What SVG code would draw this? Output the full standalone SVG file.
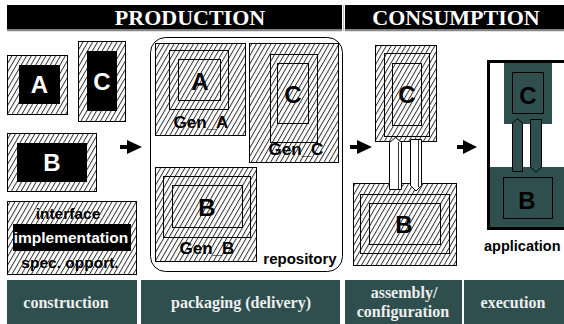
<svg xmlns="http://www.w3.org/2000/svg" width="564" height="324" viewBox="0 0 564 324">
<defs>
<pattern id="hatch" width="4.2" height="10" patternUnits="userSpaceOnUse" patternTransform="rotate(30)">
<rect width="4.2" height="10" fill="#fff"/>
<line x1="0.5" y1="0" x2="0.5" y2="10" stroke="#222" stroke-width="0.9"/>
</pattern>
<style>
.h{fill:url(#hatch);stroke:#000;stroke-width:1}
.ln{fill:none;stroke:#000;stroke-width:1}
.blk{fill:#000}
.slate{fill:#2f4f4f}
.sl{fill:#2f4f4f;stroke:#000;stroke-width:1}
.ss{font-family:"Liberation Sans",Arial,sans-serif;font-weight:bold;text-anchor:middle}
.big{font-size:24px}
.gen{font-size:17px}
.lbl{font-size:15.5px}
.hd{font-family:"Liberation Serif","Times New Roman",serif;font-weight:bold;font-size:22px;fill:#fff;text-anchor:middle}
.ft{font-family:"Liberation Serif","Times New Roman",serif;font-weight:bold;font-size:16px;fill:#eee;text-anchor:middle}
.plug{fill:#fff;stroke:#000;stroke-width:1}
.arr{fill:#000}
</style>
</defs>
<rect width="564" height="324" fill="#fff"/>

<g id="header">
<rect x="7" y="5" width="335" height="24.5" class="blk"/>
<rect x="345" y="5" width="219" height="24.5" class="blk"/>
<line x1="7" y1="30.5" x2="342" y2="30.5" stroke="#888" stroke-width="1.5"/>
<line x1="345" y1="30.5" x2="564" y2="30.5" stroke="#888" stroke-width="1.5"/>
<line x1="343.5" y1="5" x2="343.5" y2="31" stroke="#bbb" stroke-width="1"/>
<text x="190" y="25" class="hd">PRODUCTION</text>
<text x="456" y="25" class="hd">CONSUMPTION</text>
</g>

<g id="construction_A">
<rect x="7.5" y="55.5" width="60" height="59" class="h"/>
<rect x="19" y="65" width="41" height="39" class="blk"/>
<text x="39.5" y="93" class="ss big" fill="#fff">A</text>
</g>
<g id="construction_C">
<rect x="78.5" y="41.5" width="47" height="80" class="h"/>
<rect x="87" y="51" width="30" height="60" class="blk"/>
<text x="102" y="90" class="ss big" fill="#fff">C</text>
</g>
<g id="construction_B">
<rect x="7.5" y="133.5" width="89" height="58" class="h"/>
<rect x="17" y="143" width="70" height="39" class="blk"/>
<text x="52" y="171" class="ss big" fill="#fff">B</text>
</g>
<g id="construction_interface">
<rect x="7.5" y="201.5" width="129" height="73" class="h"/>
<rect x="13" y="224" width="118" height="27" class="blk"/>
<text x="68" y="219" class="ss lbl" fill="#000">interface</text>
<text x="71" y="243" class="ss lbl" fill="#fff">implementation</text>
<text x="70" y="268" class="ss lbl" fill="#000">spec. opport.</text>
</g>

<g id="repository">
<rect x="150.5" y="37.5" width="192" height="234" rx="15" ry="15" class="ln" stroke-width="1.3"/>
<text x="300" y="264" class="ss" font-size="15px" fill="#000">repository</text>
</g>
<g id="gen_A">
<rect x="155.5" y="43.5" width="90" height="92" class="h"/>
<rect x="169.5" y="50.5" width="59" height="59" class="ln"/>
<rect x="178.5" y="59.5" width="42" height="41" class="ln"/>
<text x="200" y="90" class="ss big" fill="#000">A</text>
<text x="201" y="128" class="ss gen" fill="#000">Gen_A</text>
</g>
<g id="gen_C">
<rect x="249.5" y="43.5" width="89" height="119" class="h"/>
<rect x="270.5" y="54.5" width="47" height="88" class="ln"/>
<rect x="277.5" y="63.5" width="31" height="60" class="ln"/>
<text x="293" y="103" class="ss big" fill="#000">C</text>
<text x="296" y="155" class="ss gen" fill="#000">Gen_C</text>
</g>
<g id="gen_B">
<rect x="155.5" y="167.5" width="101" height="94" class="h"/>
<rect x="163.5" y="176.5" width="87" height="61" class="ln"/>
<rect x="172.5" y="185.5" width="70" height="42" class="ln"/>
<text x="207" y="216" class="ss big" fill="#000">B</text>
<text x="207" y="254" class="ss gen" fill="#000">Gen_B</text>
</g>

<g id="assembly_C">
<rect x="375.5" y="45.5" width="61" height="96" class="h"/>
<rect x="384.5" y="53.5" width="45" height="83" class="ln"/>
<rect x="392.5" y="63.5" width="29" height="62" class="ln"/>
<text x="407" y="103" class="ss big" fill="#000">C</text>
</g>
<g id="assembly_B">
<rect x="353.5" y="183.5" width="103" height="82" class="h"/>
<rect x="360.5" y="194.5" width="89" height="59" class="ln"/>
<rect x="369.5" y="203.5" width="71" height="41" class="ln"/>
<text x="404" y="233" class="ss big" fill="#000">B</text>
</g>
<g id="assembly_plugs">
<path d="M389.5,189.5 V142.5 L395.5,137.5 L401.5,142.5 V189.5 Z" class="plug"/>
<line x1="398.5" y1="142" x2="398.5" y2="189" stroke="#000" stroke-width="0.8"/>
<path d="M410.5,139.5 H421.5 V185.5 L416,191 L410.5,185.5 Z" class="plug"/>
<line x1="418.5" y1="140" x2="418.5" y2="187" stroke="#000" stroke-width="0.8"/>
</g>

<g id="application">
<rect x="488.5" y="61.5" width="80" height="167" fill="#fff" stroke="#000" stroke-width="3"/>
<rect x="490" y="167" width="76" height="60" class="slate"/>
<rect x="504" y="63" width="48" height="61" class="slate"/>
<rect x="512.5" y="72.5" width="31" height="41" class="ln"/>
<text x="528" y="104" class="ss big" fill="#000">C</text>
<rect x="503.5" y="177.5" width="49" height="41" class="ln"/>
<text x="527" y="209" class="ss big" fill="#000">B</text>
<path d="M512.5,171.5 V123 L517.5,118.5 L522.5,123 V171.5 Z" class="sl"/>
<path d="M530.5,119.5 H541.5 V167 L536,172.5 L530.5,167 Z" class="sl"/>
<text x="484" y="251" class="ss" font-size="14.5px" text-anchor="start" style="text-anchor:start" fill="#000">application</text>
</g>

<g id="connectors">
<path d="M120,145 h7 v-5 l15,7 l-15,7 v-5 h-7 z" class="arr"/>
<path d="M350,145 h7 v-5 l15,7 l-15,7 v-5 h-7 z" class="arr"/>
<path d="M457,145 h6 v-5 l14,7 l-14,7 v-5 h-6 z" class="arr"/>
</g>

<g id="footer">
<rect x="7" y="280" width="130" height="44" class="slate"/>
<rect x="141" y="280" width="199" height="44" class="slate"/>
<rect x="345" y="280" width="117" height="44" class="slate"/>
<rect x="464" y="280" width="100" height="44" class="slate"/>
<text x="66" y="308" class="ft">construction</text>
<text x="241" y="308" class="ft">packaging (delivery)</text>
<text x="404" y="298" class="ft">assembly/</text>
<text x="403" y="317" class="ft">configuration</text>
<text x="513" y="308" class="ft">execution</text>
</g>
</svg>
